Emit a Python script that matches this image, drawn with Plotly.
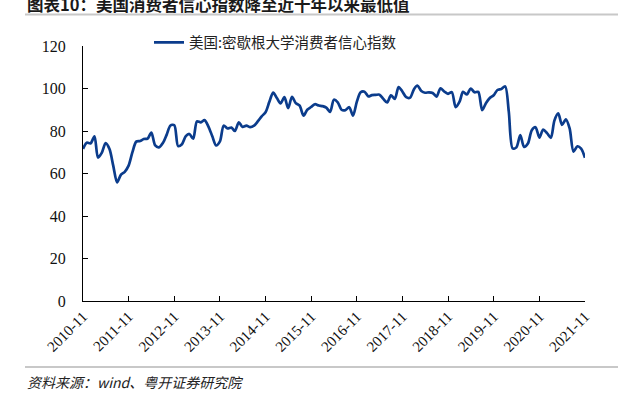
import plotly.graph_objects as go
import pandas as pd

months = pd.date_range("2010-11-01", "2021-11-01", freq="MS")

sentiment = [
    # 2010 Nov-Dec
    71.6, 74.5,
    # 2011
    74.2, 77.5, 67.5, 69.8, 74.3, 71.5, 63.7, 55.8, 59.5, 60.8, 63.7, 69.9,
    # 2012
    75.0, 75.3, 76.2, 76.4, 79.3, 73.2, 72.3, 74.3, 78.3, 82.6, 82.7, 72.9,
    # 2013
    73.8, 77.6, 78.6, 76.4, 84.5, 84.1, 85.1, 82.1, 77.5, 73.2, 75.1, 82.5,
    # 2014
    81.2, 81.6, 80.0, 84.1, 81.9, 82.5, 81.8, 82.5, 84.6, 86.9, 88.8, 93.6,
    # 2015
    98.1, 95.4, 93.0, 95.9, 90.7, 96.1, 93.1, 91.9, 87.2, 90.0, 91.3, 92.6,
    # 2016
    92.0, 91.7, 91.0, 89.0, 94.7, 93.5, 90.0, 89.8, 91.2, 87.2, 93.8, 98.2,
    # 2017
    98.5, 96.3, 96.9, 97.0, 97.1, 95.1, 93.4, 96.8, 95.1, 100.7, 98.5, 95.9,
    # 2018
    95.7, 99.7, 101.4, 98.8, 98.0, 98.2, 97.9, 96.2, 100.1, 98.6, 97.5, 98.3,
    # 2019
    91.2, 93.8, 98.4, 97.2, 100.0, 98.2, 98.4, 89.8, 93.2, 95.5, 96.8, 99.3,
    # 2020
    99.8, 101.0, 89.1, 71.8, 72.3, 78.1, 72.5, 74.1, 80.4, 81.8, 76.9, 80.7,
    # 2021 Jan-Nov
    79.0, 76.8, 84.9, 88.3, 82.9, 85.5, 81.2, 70.3, 72.8, 71.7, 67.4,
]

tick_vals = pd.date_range("2010-11-01", "2021-11-01", freq="12MS")
tick_text = [d.strftime("%Y-%m") for d in tick_vals]

series_name = "美国:密歇根大学消费者信心指数"
title_text = "图表10：美国消费者信心指数降至近十年以来最低值"
source_text = "资料来源：wind、粤开证券研究院"

fig = go.Figure()
fig.add_trace(go.Scatter(
    x=months, y=sentiment, mode="lines", name=series_name,
    line=dict(color="#0B3C8C", width=2.7, shape="spline", smoothing=0.8),
))

L, R, T, B = 83, 46, 46, 96
W, H = 631, 397
pw, ph = W - L - R, H - T - B

def px(x):
    return (x - L) / pw

def py(y):
    return (H - B - y) / ph

serif = "Liberation Serif, Times New Roman, Noto Sans CJK SC, serif"

fig.update_layout(
    width=W, height=H,
    margin=dict(l=L, r=R, t=T, b=B, autoexpand=False),
    paper_bgcolor="white", plot_bgcolor="white",
    showlegend=True,
    legend=dict(
        x=px(149), y=py(42.5), xanchor="left", yanchor="middle",
        orientation="h", itemwidth=30,
        font=dict(family="Noto Sans CJK SC, serif", size=14.5, color="#222222"),
        bgcolor="rgba(0,0,0,0)",
    ),
    xaxis=dict(
        range=[months[0], months[-1]],
        tickvals=list(tick_vals), ticktext=tick_text,
        tickangle=-45, automargin=False,
        ticks="inside", ticklen=5, tickcolor="#000000",
        showline=True, linecolor="#000000", linewidth=1,
        showgrid=False, zeroline=False,
        tickfont=dict(family=serif, size=15, color="#111111"),
    ),
    yaxis=dict(
        range=[0, 120], tickvals=[0, 20, 40, 60, 80, 100, 120],
        automargin=False,
        ticks="inside", ticklen=5, tickcolor="#000000",
        showline=True, linecolor="#000000", linewidth=1,
        showgrid=False, zeroline=False,
        tickfont=dict(family=serif, size=16, color="#111111"),
        ticklabelstandoff=13,
    ),
    shapes=[
        dict(type="line", xref="paper", yref="paper",
             x0=px(25), x1=px(618), y0=py(14.5), y1=py(14.5),
             line=dict(color="#C8C8C8", width=2)),
        dict(type="line", xref="paper", yref="paper",
             x0=px(25), x1=px(618), y0=py(367), y1=py(367),
             line=dict(color="#C8C8C8", width=2)),
    ],
    annotations=[
        dict(text="<b>" + title_text + "</b>", xref="paper", yref="paper",
             x=px(25), y=py(4.5), xanchor="left", yanchor="middle",
             showarrow=False,
             font=dict(family="Noto Sans CJK SC", size=16.5, color="#1A1A1A")),
        dict(text="<i>" + source_text + "</i>", xref="paper", yref="paper",
             x=px(25), y=py(382), xanchor="left", yanchor="middle",
             showarrow=False,
             font=dict(family="Noto Sans CJK SC", size=14, color="#222222")),
    ],
)

fig.write_html(
    "out.html",
    config={"displayModeBar": False},
    post_script="document.body.style.margin='0px';document.body.style.padding='0px';",
)
